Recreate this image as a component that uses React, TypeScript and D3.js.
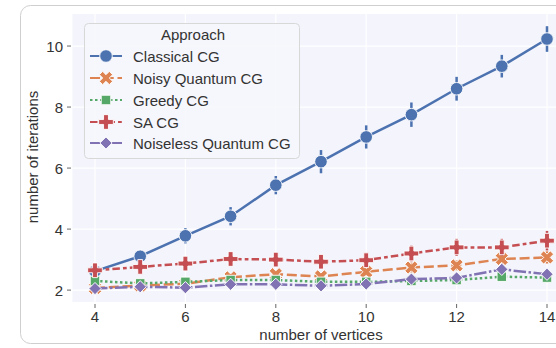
import * as d3 from "d3";
import React from "react";

const W = 556;
const H = 348;

const vertices = [4, 5, 6, 7, 8, 9, 10, 11, 12, 13, 14];
const approaches = ["Classical CG", "Noisy Quantum CG", "Greedy CG", "SA CG", "Noiseless Quantum CG"];
const colors = ["#4C72B0", "#DD8452", "#55A868", "#C44E52", "#8172B3"];
const dashes = ["", "10,3.75", "2.5,2.5", "7.5,3.1,3.75,3.1", "12.5,2.5,2.5,2.5"];
const markers = ["o", "X", "s", "P", "D"];

const classical = [2.62, 3.11, 3.78, 4.42, 5.44, 6.21, 7.02, 7.75, 8.6, 9.34, 10.23];
const noisy = [2.07, 2.15, 2.21, 2.42, 2.52, 2.45, 2.6, 2.74, 2.81, 3.02, 3.07];
const greedy = [2.3, 2.22, 2.27, 2.33, 2.33, 2.27, 2.27, 2.3, 2.33, 2.44, 2.41];
const sa = [2.65, 2.76, 2.87, 3.02, 3.0, 2.93, 2.98, 3.2, 3.4, 3.4, 3.62];
const noiseless = [2.05, 2.11, 2.08, 2.19, 2.19, 2.14, 2.2, 2.36, 2.4, 2.68, 2.52];

const classicalErr = [0.08, 0.15, 0.25, 0.3, 0.3, 0.38, 0.38, 0.4, 0.39, 0.37, 0.42];
const noisyErr = [0.06, 0.06, 0.08, 0.12, 0.12, 0.12, 0.14, 0.16, 0.16, 0.18, 0.2];
const greedyErr = [0.05, 0.05, 0.06, 0.06, 0.06, 0.06, 0.06, 0.07, 0.07, 0.08, 0.08];
const saErr = [0.1, 0.12, 0.14, 0.18, 0.18, 0.18, 0.22, 0.26, 0.28, 0.28, 0.32];
const noiselessErr = [0.05, 0.05, 0.05, 0.06, 0.06, 0.06, 0.08, 0.08, 0.1, 0.12, 0.12];

const series = [classical, noisy, greedy, sa, noiseless];
const errs = [classicalErr, noisyErr, greedyErr, saErr, noiselessErr];

const xTicks = [4, 6, 8, 10, 12, 14];
const yTicks = [2, 4, 6, 8, 10];

const x = d3.scaleLinear().domain([3.5, 14.5]).range([72.4, 569.6]);
const y = d3.scaleLinear().domain([1.61, 11.05]).range([302, 14]);

const font = "'Liberation Sans', Arial, sans-serif";
const txt = "#333";

function Marker({ kind, cx, cy, color }: { kind: string; cx: number; cy: number; color: string }) {
  let path = "";
  let rot = 0;
  if (kind === "o") path = d3.symbol(d3.symbolCircle, 125)()!;
  else if (kind === "s") path = d3.symbol(d3.symbolSquare, 90)()!;
  else if (kind === "D") { path = d3.symbol(d3.symbolSquare, 75)()!; rot = 45; }
  else if (kind === "P") path = d3.symbol(d3.symbolCross, 120)()!;
  else if (kind === "X") { path = d3.symbol(d3.symbolCross, 110)()!; rot = 45; }
  return (
    <path d={path} transform={`translate(${cx},${cy}) rotate(${rot})`} fill={color}
      stroke="#fff" strokeWidth={0.9} />
  );
}

export default function App() {
  const line = d3.line<number>().x((_, i) => x(vertices[i])).y((d) => y(d));
  const legX = 84;
  const legY = 23;
  const rows = [56, 78, 100, 122, 143];
  return (
    <svg width={W} height={H} style={{ position: "absolute", left: 0, top: 0, background: "#fff" }}>
      <rect x={20.5} y={5.5} width={620} height={338} rx={10} fill="#fff" stroke="#cfcfcf" />
      <rect x={x.range()[0]} y={14} width={x(14.5) - x(3.5)} height={288} fill="#f4f5fc" />
      {xTicks.map((t) => (
        <g key={"x" + t}>
          <line x1={x(t)} x2={x(t)} y1={14} y2={302} stroke="#fff" strokeWidth={1.2} />
          <line x1={x(t)} x2={x(t)} y1={304} y2={308} stroke="#666" strokeWidth={1} />
          <text x={x(t)} y={322} textAnchor="middle" fontSize={15} fontFamily={font} fill={txt}>{t}</text>
        </g>
      ))}
      {yTicks.map((t) => (
        <g key={"y" + t}>
          <line x1={72.4} x2={W} y1={y(t)} y2={y(t)} stroke="#fff" strokeWidth={1.2} />
          <line x1={67} x2={71} y1={y(t)} y2={y(t)} stroke="#666" strokeWidth={1} />
          <text x={63} y={y(t) + 5.5} textAnchor="end" fontSize={15} fontFamily={font} fill={txt}>{t}</text>
        </g>
      ))}
      <text x={321} y={340} textAnchor="middle" fontSize={15} fontFamily={font} fill={txt}>number of vertices</text>
      <text transform={`translate(38,157) rotate(-90)`} textAnchor="middle" fontSize={15} fontFamily={font} fill={txt}>number of iterations</text>

      {series.map((s, k) => (
        <g key={"s" + k}>
          {s.map((v, i) => (
            <line key={i} x1={x(vertices[i])} x2={x(vertices[i])} y1={y(v - errs[k][i])} y2={y(v + errs[k][i])}
              stroke={colors[k]} strokeWidth={2.5} />
          ))}
          <path d={line(s)!} fill="none" stroke={colors[k]} strokeWidth={2.5} strokeDasharray={dashes[k]} />
          {s.map((v, i) => (
            <Marker key={"m" + i} kind={markers[k]} cx={x(vertices[i])} cy={y(v)} color={colors[k]} />
          ))}
        </g>
      ))}

      <rect x={legX + 0.5} y={legY + 0.5} width={215} height={135} rx={4} fill="#f6f7fc" fillOpacity={0.85} stroke="#d8d8d8" />
      <text x={193} y={40} textAnchor="middle" fontSize={15} fontFamily={font} fill={txt}>Approach</text>
      {approaches.map((a, k) => (
        <g key={"l" + k}>
          <line x1={90} x2={122} y1={rows[k]} y2={rows[k]} stroke={colors[k]} strokeWidth={2} strokeDasharray={dashes[k]} />
          <Marker kind={markers[k]} cx={106} cy={rows[k]} color={colors[k]} />
          <text x={133} y={rows[k] + 5.5} fontSize={15} fontFamily={font} fill={txt}>{a}</text>
        </g>
      ))}
    </svg>
  );
}
